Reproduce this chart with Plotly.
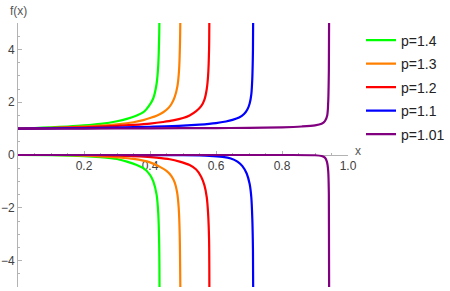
import plotly.graph_objects as go

# ---- data ----
labels = ["p=1.4", "p=1.3", "p=1.2", "p=1.1", "p=1.01"]
colors = ["#00ff00", "#ff8000", "#ff0000", "#0000ff", "#800080"]

# p = 1.4
x_up_14 = [0, 0.05, 0.1, 0.15, 0.2, 0.25, 0.3, 0.33, 0.36, 0.38, 0.40, 0.41, 0.42, 0.425, 0.428, 0.429]
y_up_14 = [1, 1.02, 1.05, 1.08, 1.12, 1.18, 1.28, 1.37, 1.5, 1.62, 1.92, 2.15, 2.7, 3.4, 4.6, 6]
x_lo_14 = [0, 0.1, 0.2, 0.25, 0.3, 0.33, 0.36, 0.38, 0.40, 0.41, 0.42, 0.425, 0.428, 0.429]
y_lo_14 = [0, -0.01, -0.04, -0.08, -0.15, -0.25, -0.38, -0.5, -0.75, -1.0, -1.5, -2.2, -3.5, -6]

# p = 1.3
x_up_13 = [0, 0.05, 0.1, 0.15, 0.2, 0.25, 0.3, 0.35, 0.38, 0.40, 0.42, 0.44, 0.455, 0.465, 0.475, 0.483, 0.488, 0.491, 0.4925]
y_up_13 = [1, 1.01, 1.03, 1.05, 1.08, 1.11, 1.16, 1.24, 1.32, 1.40, 1.49, 1.62, 1.77, 1.93, 2.2, 2.6, 3.2, 4.3, 6]
x_lo_13 = [0, 0.1, 0.2, 0.25, 0.3, 0.35, 0.4, 0.43, 0.45, 0.465, 0.475, 0.482, 0.487, 0.49, 0.4925]
y_lo_13 = [0, 0, -0.02, -0.05, -0.09, -0.15, -0.28, -0.45, -0.6, -0.8, -1.05, -1.4, -2.0, -3.0, -6]

# p = 1.2
x_up_12 = [0, 0.1, 0.2, 0.3, 0.35, 0.4, 0.44, 0.47, 0.5, 0.52, 0.54, 0.555, 0.565, 0.572, 0.576, 0.579, 0.58]
y_up_12 = [1, 1.02, 1.05, 1.1, 1.14, 1.19, 1.25, 1.31, 1.4, 1.5, 1.66, 1.85, 2.1, 2.5, 3.0, 4.0, 6]
x_lo_12 = [0, 0.2, 0.3, 0.37, 0.42, 0.46, 0.49, 0.52, 0.54, 0.555, 0.565, 0.572, 0.576, 0.579, 0.58]
y_lo_12 = [0, 0, -0.02, -0.05, -0.1, -0.16, -0.25, -0.38, -0.55, -0.82, -1.15, -1.6, -2.2, -3.2, -6]

# p = 1.1
x_up_11 = [0, 0.1, 0.2, 0.3, 0.4, 0.5, 0.55, 0.6, 0.63, 0.65, 0.67, 0.685, 0.695, 0.702, 0.707, 0.71, 0.712, 0.713]
y_up_11 = [1, 1.01, 1.02, 1.04, 1.07, 1.11, 1.15, 1.21, 1.27, 1.33, 1.42, 1.55, 1.72, 1.95, 2.3, 2.9, 4.0, 6]
x_lo_11 = [0, 0.3, 0.5, 0.58, 0.62, 0.645, 0.665, 0.68, 0.693, 0.702, 0.707, 0.71, 0.712, 0.713]
y_lo_11 = [0, 0, -0.01, -0.03, -0.07, -0.13, -0.25, -0.42, -0.7, -1.1, -1.6, -2.4, -3.6, -6]

# p = 1.01
x_up_101 = [0, 0.2, 0.4, 0.6, 0.7, 0.8, 0.86, 0.9, 0.92, 0.93, 0.937, 0.94, 0.942, 0.943]
y_up_101 = [1, 1.0, 1.01, 1.02, 1.03, 1.05, 1.08, 1.12, 1.18, 1.28, 1.5, 2.0, 3.2, 6]
x_lo_101 = [0, 0.5, 0.8, 0.9, 0.92, 0.93, 0.936, 0.94, 0.942, 0.943]
y_lo_101 = [0, 0, 0, -0.01, -0.04, -0.1, -0.25, -0.6, -1.5, -6]

x_ticks = [0.2, 0.4, 0.6, 0.8, 1.0]
x_ticktext = ["0.2", "0.4", "0.6", "0.8", "1.0"]
y_ticks = [-4, -2, 0, 2, 4]

series = [
    (x_up_14, y_up_14, x_lo_14, y_lo_14),
    (x_up_13, y_up_13, x_lo_13, y_lo_13),
    (x_up_12, y_up_12, x_lo_12, y_lo_12),
    (x_up_11, y_up_11, x_lo_11, y_lo_11),
    (x_up_101, y_up_101, x_lo_101, y_lo_101),
]

FONT = "Liberation Sans, Arial, sans-serif"
AX = "#b3b3b3"

fig = go.Figure()
for i, (xu, yu, xl, yl) in enumerate(series):
    fig.add_trace(go.Scatter(
        x=list(xu) + [None] + list(xl),
        y=list(yu) + [None] + list(yl),
        mode="lines",
        name=labels[i],
        legendgroup=labels[i],
        line=dict(color=colors[i], width=2.2, shape="spline", smoothing=0.8),
        hoverinfo="skip",
    ))

fig.update_layout(
    width=450, height=291,
    margin=dict(l=18, r=102, t=23, b=4, autoexpand=False),
    paper_bgcolor="white", plot_bgcolor="white",
    font=dict(family=FONT, size=12, color="#444444"),
    showlegend=True,
    legend=dict(
        x=(361 - 18) / 330, y=0.994, xanchor="left", yanchor="top",
        font=dict(family=FONT, size=14, color="#222222"),
        tracegroupgap=2.3,
        bgcolor="rgba(0,0,0,0)",
    ),
    xaxis=dict(
        range=[0, 1], anchor="free", position=0.5,
        showgrid=False, zeroline=False, automargin=False,
        showline=True, linecolor=AX, linewidth=1,
        tickmode="array", tickvals=x_ticks, ticktext=x_ticktext,
        ticks="inside", ticklen=4, tickcolor=AX, tickwidth=1,
        minor=dict(tickmode="linear", tick0=0, dtick=0.05, ticks="inside", ticklen=2, tickcolor=AX),
        tickfont=dict(size=12, color="#404040"),
        layer="below traces",
        fixedrange=True,
    ),
    yaxis=dict(
        range=[-5, 5],
        showgrid=False, zeroline=False, automargin=False,
        showline=True, linecolor=AX, linewidth=1,
        tickmode="array", tickvals=y_ticks,
        ticks="inside", ticklen=4, tickcolor=AX, tickwidth=1,
        minor=dict(tickmode="linear", tick0=0, dtick=0.5, ticks="inside", ticklen=2, tickcolor=AX),
        tickfont=dict(size=12, color="#404040"),
        layer="below traces",
        fixedrange=True,
    ),
    annotations=[
        dict(text="f(x)", xref="paper", yref="paper", x=0, y=1, xanchor="center", yanchor="bottom",
             yshift=3, showarrow=False, font=dict(size=12, color="#555555")),
        dict(text="x", xref="paper", yref="paper", x=1, y=0.5, xanchor="left", yanchor="bottom",
             xshift=5, yshift=-5, showarrow=False, font=dict(size=12, color="#555555")),
    ],
)

fig.write_html(
    "out.html",
    config={"displayModeBar": False, "staticPlot": True},
    post_script="document.body.style.margin='0';document.body.style.overflow='hidden';",
)
